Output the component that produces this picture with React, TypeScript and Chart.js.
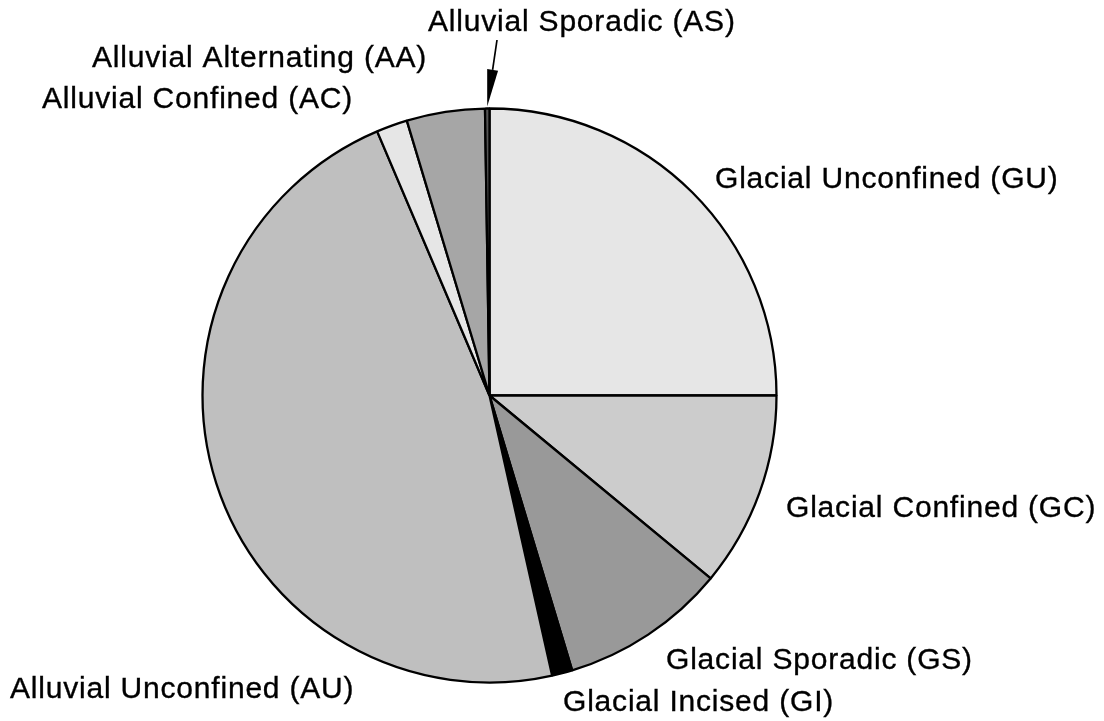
import React, { useEffect, useRef } from "react";
import { Chart, registerables } from "chart.js";

Chart.register(...registerables);

// ---- data ----
const categories = [
  "Glacial Unconfined (GU)",
  "Glacial Confined (GC)",
  "Glacial Sporadic (GS)",
  "Glacial Incised (GI)",
  "Alluvial Unconfined (AU)",
  "Alluvial Confined (AC)",
  "Alluvial Alternating (AA)",
  "Alluvial Sporadic (AS)",
];
const shares = [25.0, 11.0, 9.35, 1.15, 47.1, 1.75, 4.4, 0.25];

// ---- styles / layout (not data) ----
const sliceColors = ["#e6e6e6", "#cccccc", "#999999", "#000000", "#bfbfbf", "#e6e6e6", "#a6a6a6", "#555555"];
// label anchor: left x, baseline y
const labelLayout: [number, number][] = [
  [715, 188],
  [786, 517],
  [666, 669],
  [563, 711],
  [10, 698],
  [42, 108],
  [92, 67],
  [428, 31],
];
const arrowLabelIndex = 7;
const arrowStart: [number, number] = [497, 40];

const labelPlugin = {
  id: "outsideLabels",
  afterDraw(chart: any) {
    const ctx: CanvasRenderingContext2D = chart.ctx;
    ctx.save();
    ctx.fillStyle = "#000";
    ctx.strokeStyle = "#000";
    ctx.font = "30px 'Liberation Sans', Arial, sans-serif";
    (ctx as any).letterSpacing = "0.8px";
    ctx.textAlign = "left";
    ctx.textBaseline = "alphabetic";
    ctx.lineWidth = 0.35;
    categories.forEach((c, i) => {
      const [x, y] = labelLayout[i];
      ctx.fillText(c, x, y);
      ctx.strokeText(c, x, y);
    });
    // arrow to the tiny slice
    const arc: any = chart.getDatasetMeta(0).data[arrowLabelIndex];
    if (arc) {
      const p = arc.getProps(["x", "y", "startAngle", "endAngle", "outerRadius"], true);
      const mid = (p.startAngle + p.endAngle) / 2;
      const tx = p.x + Math.cos(mid) * (p.outerRadius + 2);
      const ty = p.y + Math.sin(mid) * (p.outerRadius + 2);
      const [sx, sy] = arrowStart;
      const ang = Math.atan2(ty - sy, tx - sx);
      const headLen = 37;
      const headHalf = 5.5;
      const bx = tx - Math.cos(ang) * headLen;
      const by = ty - Math.sin(ang) * headLen;
      ctx.lineWidth = 1.7;
      ctx.beginPath();
      ctx.moveTo(sx, sy);
      ctx.lineTo(bx, by);
      ctx.stroke();
      ctx.beginPath();
      ctx.moveTo(tx, ty);
      ctx.lineTo(bx + Math.cos(ang + Math.PI / 2) * headHalf, by + Math.sin(ang + Math.PI / 2) * headHalf);
      ctx.lineTo(bx - Math.cos(ang + Math.PI / 2) * headHalf, by - Math.sin(ang + Math.PI / 2) * headHalf);
      ctx.closePath();
      ctx.fill();
    }
    ctx.restore();
  },
};

export default function App() {
  const ref = useRef<HTMLCanvasElement | null>(null);
  useEffect(() => {
    if (!ref.current) return;
    const chart = new Chart(ref.current, {
      type: "pie",
      data: {
        labels: categories,
        datasets: [
          {
            data: shares,
            backgroundColor: sliceColors,
            borderColor: "#000",
            borderWidth: 2.3,
          },
        ],
      },
      options: {
        responsive: false,
        animation: false,
        radius: 287,
        layout: { padding: { left: 202, right: 327, top: 108, bottom: 38 } },
        plugins: { legend: { display: false }, tooltip: { enabled: false } },
      },
      plugins: [labelPlugin],
    });
    return () => chart.destroy();
  }, []);
  return (
    <div style={{ position: "absolute", left: 0, top: 0, width: 1104, height: 721, background: "#fff" }}>
      <canvas ref={ref} width={1104} height={721} />
    </div>
  );
}
